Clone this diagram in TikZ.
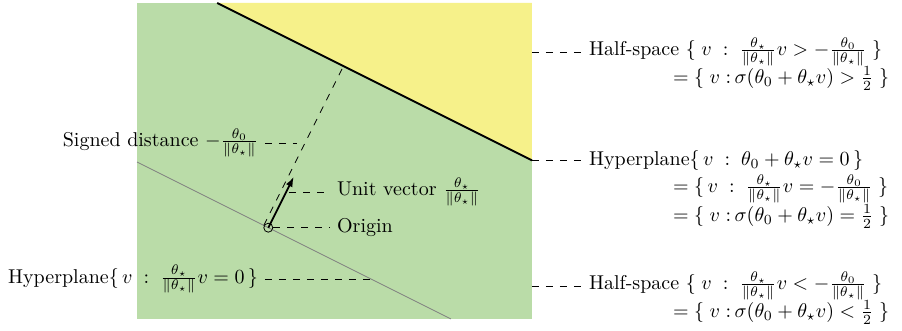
\documentclass[tikz,border=0pt]{standalone}
\usetikzlibrary{arrows.meta}
\definecolor{halfgreen}{RGB}{186,220,168}
\definecolor{halfyellow}{RGB}{246,241,138}
\newcommand{\thn}{\frac{\theta_\star}{\|\theta_\star\|}}
\newcommand{\thz}{\frac{\theta_0}{\|\theta_\star\|}}
\begin{document}
\begin{tikzpicture}[
  leader/.style={dash pattern=on 3.5pt off 3.5pt, line width=0.4pt},
  lbl/.style={inner sep=3.333pt},
  rlbl/.style={inner xsep=3.333pt, inner ysep=0pt},
]
\useasboundingbox (-134.15pt,-51.65pt) rectangle (316.85pt,113.85pt);
% regions
\fill[halfgreen] (-2.307,-1.604) rectangle (4.634,3.949);
\fill[halfyellow] (-0.898,3.949) -- (4.634,3.949) -- (4.634,1.183) -- cycle;
% decision boundary
\coordinate (T1) at (-0.898,3.949);
\coordinate (T2) at (4.634,1.183);
\draw[line width=1pt] (T1) -- (T2);
% hyperplane through origin
\coordinate (G1) at (-2.307,1.1535);
\coordinate (G2) at (3.208,-1.604);
\draw[gray, line width=0.4pt] (G1) -- (G2);
% signed distance
\coordinate (D1) at (-0.08,0.04);
\coordinate (D2) at (1.32,2.84);
\draw[leader] (D1) -- (D2);
% origin and unit vector
\node[draw, circle, inner sep=0pt, minimum size=4.5pt, line width=0.4pt] (O) at (0,0) {};
\coordinate (U) at (0.4472,0.8944);
\draw[line width=0.9pt, -{Latex[length=5pt,width=3.6pt]}] (O.center) -- (U);
% left labels
\node[lbl, anchor=east] (sd) at (-0.058,1.489) {Signed distance $-\thz$};
\coordinate (sdE) at (0.5,1.489);
\draw[leader] (sd.east) -- (sdE);
\node[lbl, anchor=west] (uv) at (1.085,0.627) {Unit vector $\thn$};
\coordinate (uvS) at (0.37,0.627);
\draw[leader] (uvS) -- (uv.west);
\node[lbl, anchor=west] (og) at (1.085,0) {Origin};
\draw[leader] (O) -- (og.west);
\node[lbl, anchor=east] (hp0) at (-0.058,-0.907) {Hyperplane$\{\,v\;:\;\thn v=0\,\}$};
\coordinate (hp0E) at (1.814,-0.907);
\draw[leader] (hp0.east) -- (hp0E);
% right labels
\coordinate (eU) at (4.634,3.088);
\node[rlbl, anchor=west] (hsU) at (5.513,3.088) {Half-space $\{\;v\;:\;\thn v>-\thz\;\}$};
\node[rlbl, anchor=base west] (hsU2) at ([xshift=42pt,yshift=-14pt]hsU.base west) {$=\{\;v\;{:}\,\sigma(\theta_0+\theta_\star v)>\frac{1}{2}\;\}$};
\draw[leader] (eU) -- (hsU.west);
\node[rlbl, anchor=west] (hpR) at (5.513,1.183) {Hyperplane$\{\,v\;:\;\theta_0+\theta_\star v=0\,\}$};
\node[rlbl, anchor=base west] (hpR2) at ([xshift=42pt,yshift=-13.5pt]hpR.base west) {$=\{\,v\;:\;\thn v=-\thz\;\}$};
\node[rlbl, anchor=base west] (hpR3) at ([yshift=-14.5pt]hpR2.base west) {$=\{\;v\;{:}\,\sigma(\theta_0+\theta_\star v)=\frac{1}{2}\;\}$};
\draw[leader] (T2) -- (hpR.west);
\coordinate (eL) at (4.634,-1.025);
\node[rlbl, anchor=west] (hsL) at (5.513,-1.025) {Half-space $\{\;v\;:\;\thn v<-\thz\;\}$};
\node[rlbl, anchor=base west] (hsL2) at ([xshift=42pt,yshift=-14pt]hsL.base west) {$=\{\;v\;{:}\,\sigma(\theta_0+\theta_\star v)<\frac{1}{2}\;\}$};
\draw[leader] (eL) -- (hsL.west);
\end{tikzpicture}
\end{document}
